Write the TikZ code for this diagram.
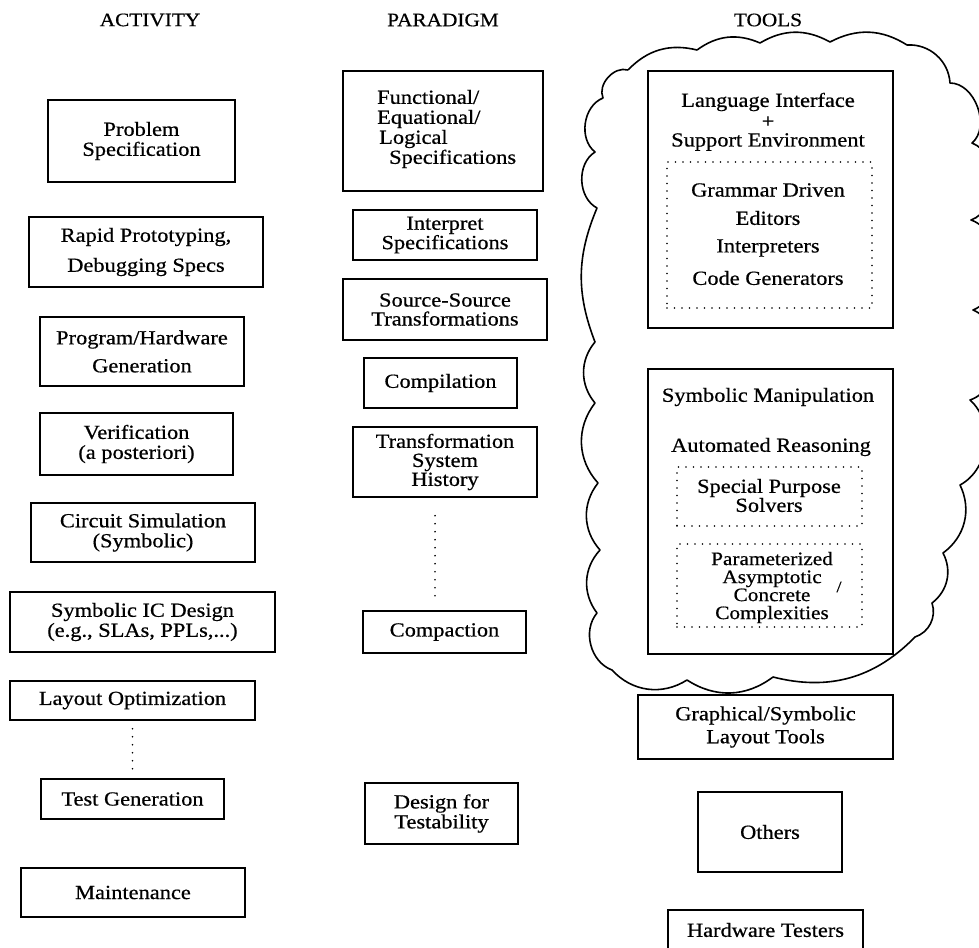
\documentclass[tikz,border=0pt]{standalone}
\usepackage{fontspec}
\setmainfont{Liberation Serif}[FakeStretch=1.12, FakeBold=0.6]
\begin{document}
\begin{tikzpicture}[x=1pt,y=1pt,
  lbl/.style={font=\fontsize{20}{20}\selectfont, align=center, inner sep=0pt},
  box/.style={draw, line width=1.3pt, lbl},
  ttl/.style={font=\fontsize{19}{19}\selectfont, inner sep=0pt},
  dotbox/.style={draw, line width=1.8pt, dash pattern=on 0pt off 7.5pt, line cap=round},
  dotline/.style={line width=1.8pt, dash pattern=on 0pt off 8pt, line cap=round},
  cloudline/.style={line width=1.6pt, line join=round}]
\clip (0,0) rectangle (979,-947);
\fill[white] (0,0) rectangle (979,-947);

% titles
\node[ttl] (tact) at (150,-20) {ACTIVITY};
\node[ttl] (tpar) at (443,-20) {PARADIGM};
\node[ttl] (ttools) at (768,-20) {TOOLS};

% ACTIVITY column
\node[box, minimum width=187, minimum height=82] (a1) at (141.5,-141) {Problem\\Specification};
\node[box, minimum width=234, minimum height=70] (a2) at (146,-252) {Rapid Prototyping,\\[10pt]Debugging Specs};
\node[box, minimum width=204, minimum height=69] (a3) at (142,-351.5) {Program/Hardware\\[8pt]Generation};
\node[box, minimum width=193, minimum height=62] (a4) at (136.5,-444) {Verification\\(a posteriori)};
\node[box, minimum width=224, minimum height=59] (a5) at (143,-532.5) {Circuit Simulation\\(Symbolic)};
\node[box, minimum width=265, minimum height=60] (a6) at (142.5,-622) {Symbolic IC Design\\(e.g., SLAs, PPLs,...)};
\node[box, minimum width=245, minimum height=39] (a7) at (132.5,-700.5) {Layout Optimization};
\node[box, minimum width=183, minimum height=40] (a8) at (132.5,-799) {Test Generation};
\node[box, minimum width=224, minimum height=49] (a9) at (133,-892.5) {Maintenance};
\draw[dotline] ([yshift=-8pt]a7.south) -- ([yshift=9pt]a8.north);

% PARADIGM column
\node[box, minimum width=200, minimum height=120] (p1) at (443,-131) {};
\node[lbl, align=left, anchor=west] (p1t) at (377,-129) {Functional/\\Equational/\\\hspace*{2pt}Logical\\\hspace*{12pt}Specifications};
\node[box, font=\fontsize{20}{18}\selectfont, minimum width=184, minimum height=50] (p2) at (445,-235) {Interpret\\Specifications};
\node[box, font=\fontsize{20}{19}\selectfont, minimum width=204, minimum height=61] (p3) at (445,-309.5) {Source-Source\\Transformations};
\node[box, minimum width=153, minimum height=50] (p4) at (440.5,-383) {Compilation};
\node[box, font=\fontsize{20}{19}\selectfont, minimum width=184, minimum height=70] (p5) at (445,-462) {Transformation\\System\\History};
\node[box, minimum width=163, minimum height=42] (p6) at (444.5,-632) {Compaction};
\node[box, minimum width=153, minimum height=61] (p7) at (441.5,-813.5) {Design for\\Testability};
\draw[dotline] ([xshift=-10pt,yshift=-18pt]p5.south) -- ([xshift=-9.5pt,yshift=14pt]p6.north);

% TOOLS column
\node[box, minimum width=245, minimum height=257] (t1) at (770.5,-199.5) {};
\node[lbl] (t1a) at (768,-102) {Language Interface};
\node[lbl] (t1b) at (768,-122) {+};
\node[lbl] (t1c) at (768,-142) {Support Environment};
\node[dotbox, minimum width=205, minimum height=146] (t1d) at (769.5,-235) {};
\node[lbl] (t1e) at (768,-190) {Grammar Driven};
\node[lbl] (t1f) at (768,-218) {Editors};
\node[lbl] (t1g) at (768,-248) {Interpreters};
\node[lbl] (t1h) at (768,-278) {Code Generators};

\node[box, minimum width=245, minimum height=285] (t2) at (770.5,-511.5) {};
\node[lbl] (t2a) at (768,-397) {Symbolic Manipulation};
\node[lbl] (t2b) at (771,-447) {Automated Reasoning};
\node[dotbox, minimum width=185, minimum height=59] (t2c) at (769.5,-496.5) {};
\node[lbl, font=\fontsize{20}{19}\selectfont] (t2d) at (769,-495.5) {Special Purpose\\Solvers};
\node[dotbox, minimum width=185, minimum height=83] (t2e) at (769.5,-585.5) {};
\node[lbl, font=\fontsize{19}{18}\selectfont] (t2f) at (772,-587.5) {Parameterized\\Asymptotic\\Concrete\\Complexities};
\node[lbl, font=\fontsize{16}{16}\selectfont] (t2g) at (839,-587) {/};

\node[box, font=\fontsize{20}{23}\selectfont, minimum width=255, minimum height=64] (t3) at (765.5,-727) {Graphical/Symbolic\\Layout Tools};
\node[box, minimum width=144, minimum height=80] (t4) at (770,-832) {Others};
\node[box, minimum width=195, minimum height=40] (t5) at (765.5,-930) {Hardware Testers};

% cloud
\draw[cloudline] (628,-70) to[bend left=30] (697,-50) to[bend left=30] (760,-43)
  to[bend left=30] (830,-42) to[bend left=30] (907,-45) to[bend left=45] (950,-83)
  to[bend left=70] (972,-143) to[bend left=70] (971,-220) to[bend left=70] (973,-310)
  to[bend left=70] (970,-400) to[bend left=55] (960,-485) to[bend left=40] (943,-553)
  to[bend left=40] (932,-603) to[bend left=45] (915,-637) to[bend left=30] (773,-677)
  to[bend left=35] (687,-680) to[bend left=40] (612,-670) to[bend left=55] (597,-613)
  to[bend left=40] (600,-550) to[bend left=40] (598,-483) to[bend left=40] (595,-403)
  to[bend left=40] (595,-342) to[bend left=22] (597,-208) to[bend left=60] (595,-152)
  to[bend left=60] (603,-98) to[bend left=65] (628,-70);
\end{tikzpicture}
\end{document}
